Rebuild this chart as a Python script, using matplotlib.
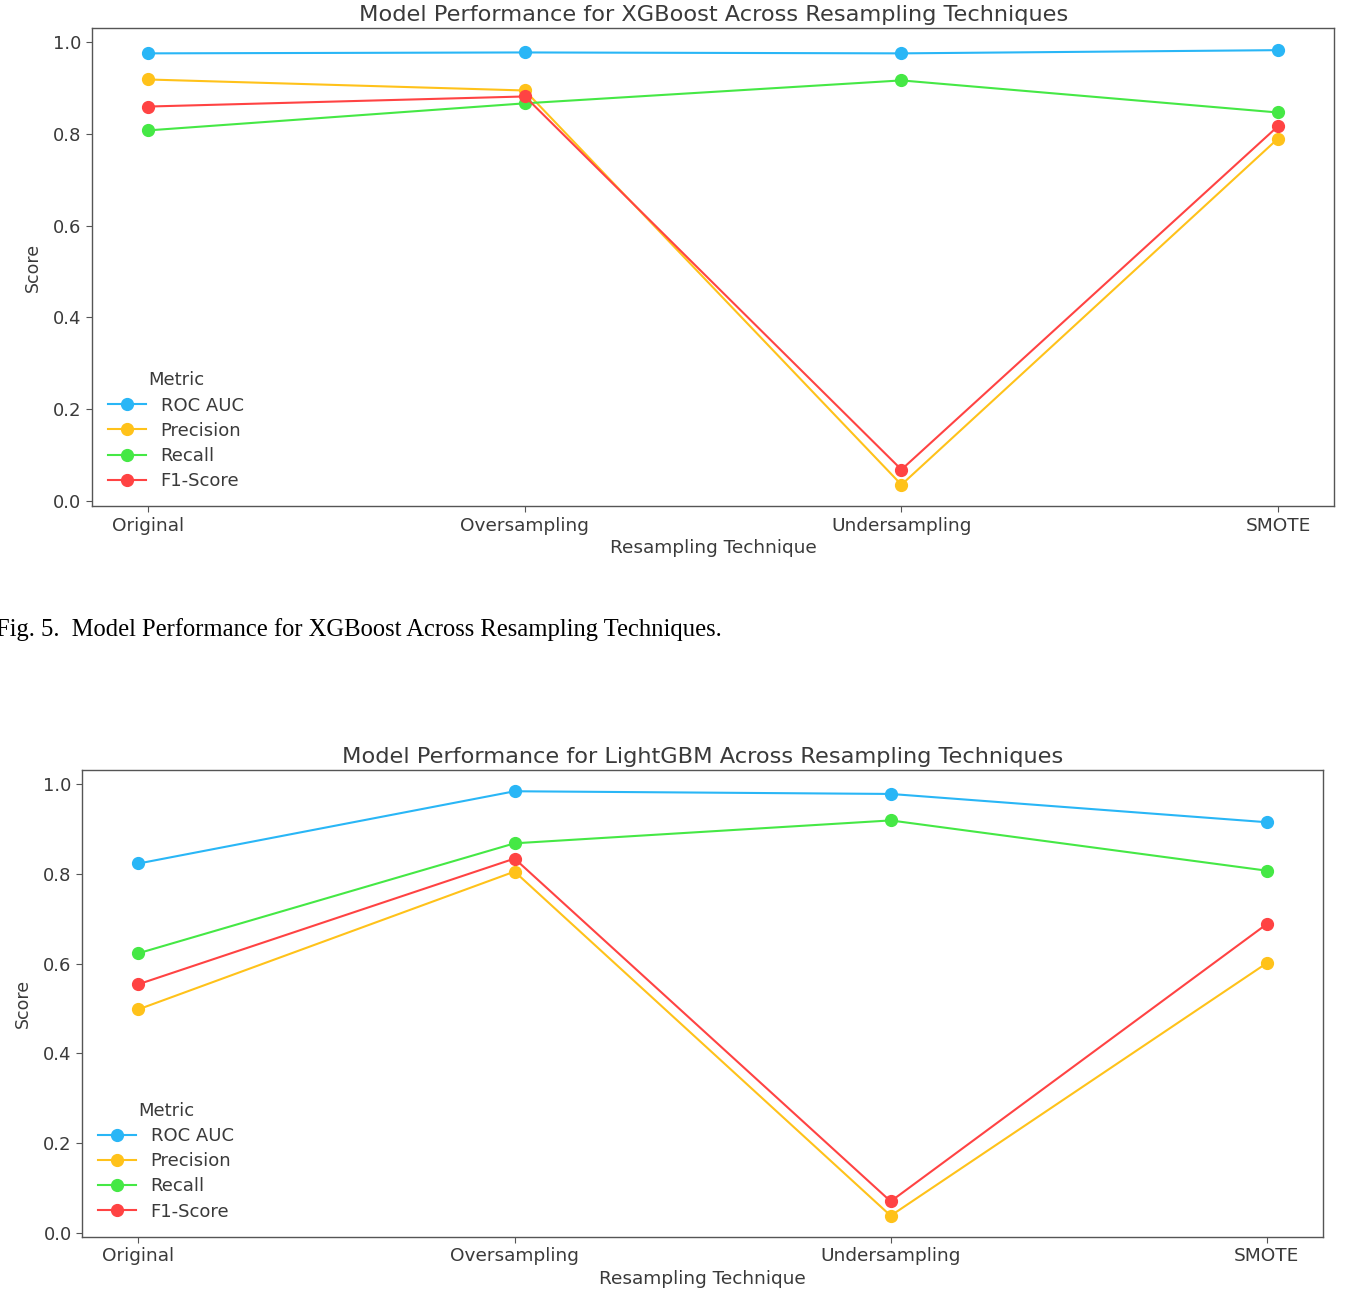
import matplotlib
matplotlib.use("Agg")
import matplotlib.pyplot as plt

plt.rcParams['font.family'] = ['DejaVu Sans']

techniques = ["Original", "Oversampling", "Undersampling", "SMOTE"]
metrics = ["ROC AUC", "Precision", "Recall", "F1-Score"]
colors = ["#29B6F6", "#FFC21A", "#45E845", "#FF4343"]

xgb_roc = [0.976, 0.978, 0.976, 0.983]
xgb_precision = [0.919, 0.895, 0.035, 0.790]
xgb_recall = [0.808, 0.867, 0.917, 0.847]
xgb_f1 = [0.860, 0.882, 0.068, 0.817]

lgb_roc = [0.823, 0.984, 0.978, 0.915]
lgb_precision = [0.498, 0.805, 0.038, 0.601]
lgb_recall = [0.623, 0.868, 0.919, 0.807]
lgb_f1 = [0.554, 0.834, 0.070, 0.688]

caption = "Fig. 5.  Model Performance for XGBoost Across Resampling Techniques."

fig = plt.figure(figsize=(13.52, 12.92), dpi=100)

TXT = '#3a3a3a'

def draw(ax, series, title):
    x = list(range(len(techniques)))
    for name, vals, c in zip(metrics, series, colors):
        ax.plot(x, vals, marker='o', color=c, lw=1.5, markersize=8.5, label=name)
    ax.set_xticks(x)
    ax.set_xticklabels(techniques, fontsize=13.3, color=TXT, family='DejaVu Sans')
    ax.set_yticks([0.0, 0.2, 0.4, 0.6, 0.8, 1.0])
    ax.set_yticklabels(["0.0", "0.2", "0.4", "0.6", "0.8", "1.0"], fontsize=13,
                       color=TXT, family='DejaVu Sans')
    ax.set_xlabel("Resampling Technique", fontsize=13.3, color=TXT, labelpad=3,
                  family='DejaVu Sans')
    ax.set_ylabel("Score", fontsize=12.5, color=TXT, labelpad=8, family='DejaVu Sans')
    ax.set_title(title, fontsize=16.2, color=TXT, pad=5, family='DejaVu Sans')
    ax.tick_params(axis='both', length=4, color='#555555')
    for s in ax.spines.values():
        s.set_color('#555555')
        s.set_linewidth(1.0)
    leg = ax.legend(title="Metric", loc='lower left', frameon=False,
                    prop={'family': 'DejaVu Sans', 'size': 13},
                    title_fontproperties={'family': 'DejaVu Sans', 'size': 13},
                    bbox_to_anchor=(0.0, 0.0), handlelength=2.1,
                    labelspacing=0.4)
    for t in leg.get_texts():
        t.set_color(TXT)
    leg.get_title().set_color(TXT)

ax1 = fig.add_axes([0.068, 0.608, 0.919, 0.370])
draw(ax1, [xgb_roc, xgb_precision, xgb_recall, xgb_f1],
     "Model Performance for XGBoost Across Resampling Techniques")

ax2 = fig.add_axes([0.0607, 0.0426, 0.918, 0.3614])
draw(ax2, [lgb_roc, lgb_precision, lgb_recall, lgb_f1],
     "Model Performance for LightGBM Across Resampling Techniques")

fig.text(-0.003, 1 - 630 / 1292, caption, fontsize=17.7, family=['Liberation Serif'],
         color='black', va='center', ha='left')

fig.savefig("out.png", dpi=100, facecolor='white')
